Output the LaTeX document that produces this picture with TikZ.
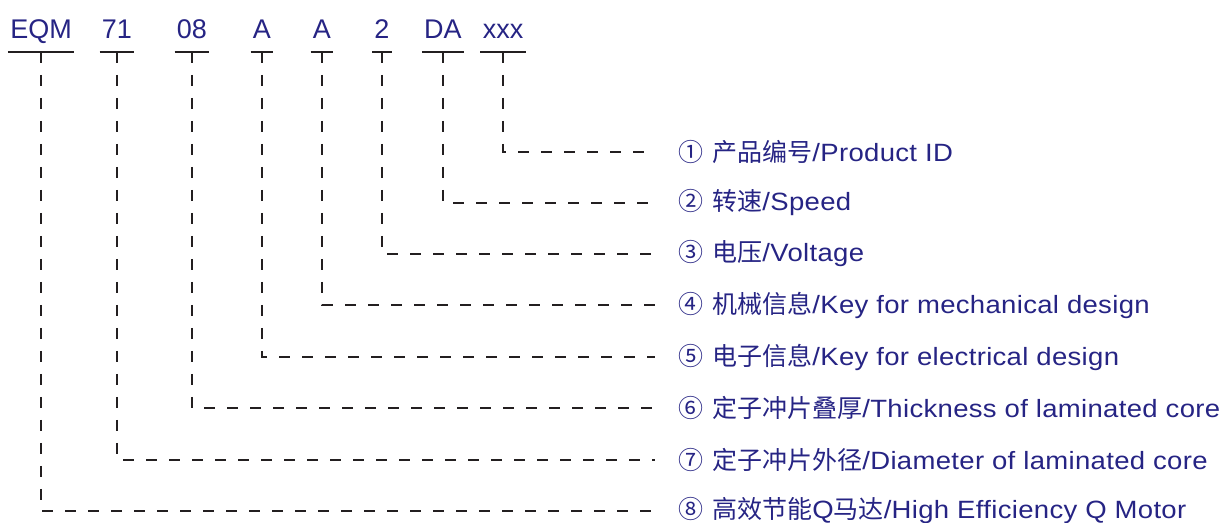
\documentclass[tikz,border=0pt]{standalone}
\usepackage{fontspec}
\setmainfont{Liberation Sans}
\newfontfamily\cjk{Noto Sans CJK SC}
\newfontfamily\wide[FakeStretch=1.1, LetterSpace=1.3]{Liberation Sans}
\usetikzlibrary{positioning}
\definecolor{codeblue}{RGB}{38,36,132}
\definecolor{linedark}{RGB}{35,31,32}
\tikzstyle{code} = [text=codeblue, font=\fontsize{13.5}{16}\selectfont, anchor=base, inner xsep=1pt, inner ysep=0pt]
\tikzstyle{item} = [text=codeblue, font=\wide\fontsize{12.5}{15}\selectfont, anchor=west, inner xsep=11.5pt]
\tikzstyle{uline} = [linedark, line width=0.75pt]
\tikzstyle{link} = [linedark, line width=0.9pt, dash pattern=on 5.5pt off 6pt]
\newcommand{\circnum}[1]{{\cjk #1}\hspace{4.5pt}}

\begin{document}
\begin{tikzpicture}[x=0.5pt, y=-0.5pt]
\useasboundingbox (0,0) rectangle (1223,523);

% type code
\node (eqm) [code] at (41,38.5) {EQM};
\node (size) [code] at (117,38.5) {71};
\node (stack) [code] at (192,38.5) {08};
\node (mech) [code] at (262,38.5) {A};
\node (elec) [code] at (322,38.5) {A};
\node (volt) [code] at (382,38.5) {2};
\node (speed) [code] at (443,38.5) {DA};
\node (pid) [code] at (503,38.5) {xxx};

% meaning of each part
\node (d1) [item] at (655,152) {\circnum{①}{\cjk 产品编号}/Product ID};
\node (d2) [item] at (655,203) {\circnum{②}{\cjk 转速}/Speed};
\node (d3) [item] at (655,254) {\circnum{③}{\cjk 电压}/Voltage};
\node (d4) [item] at (655,305) {\circnum{④}{\cjk 机械信息}/Key for mechanical design};
\node (d5) [item] at (655,357) {\circnum{⑤}{\cjk 电子信息}/Key for electrical design};
\node (d6) [item] at (655,408) {\circnum{⑥}{\cjk 定子冲片叠厚}/Thickness of laminated core};
\node (d7) [item] at (655,460) {\circnum{⑦}{\cjk 定子冲片外径}/Diameter of laminated core};
\node (d8) [item] at (655,511) {\circnum{⑧}{\cjk 高效节能}Q{\cjk 马达}/High Efficiency Q Motor};

% underlines and leaders
\foreach \c/\d in {pid/d1, speed/d2, volt/d3, elec/d4, mech/d5, stack/d6, size/d7, eqm/d8} {
  \draw [uline] ([yshift=-6.75pt]\c.base west) -- ([yshift=-6.75pt]\c.base east);
  \draw [link] ([yshift=-6.75pt]\c.base) |- (\d.west);
}
\end{tikzpicture}
\end{document}
